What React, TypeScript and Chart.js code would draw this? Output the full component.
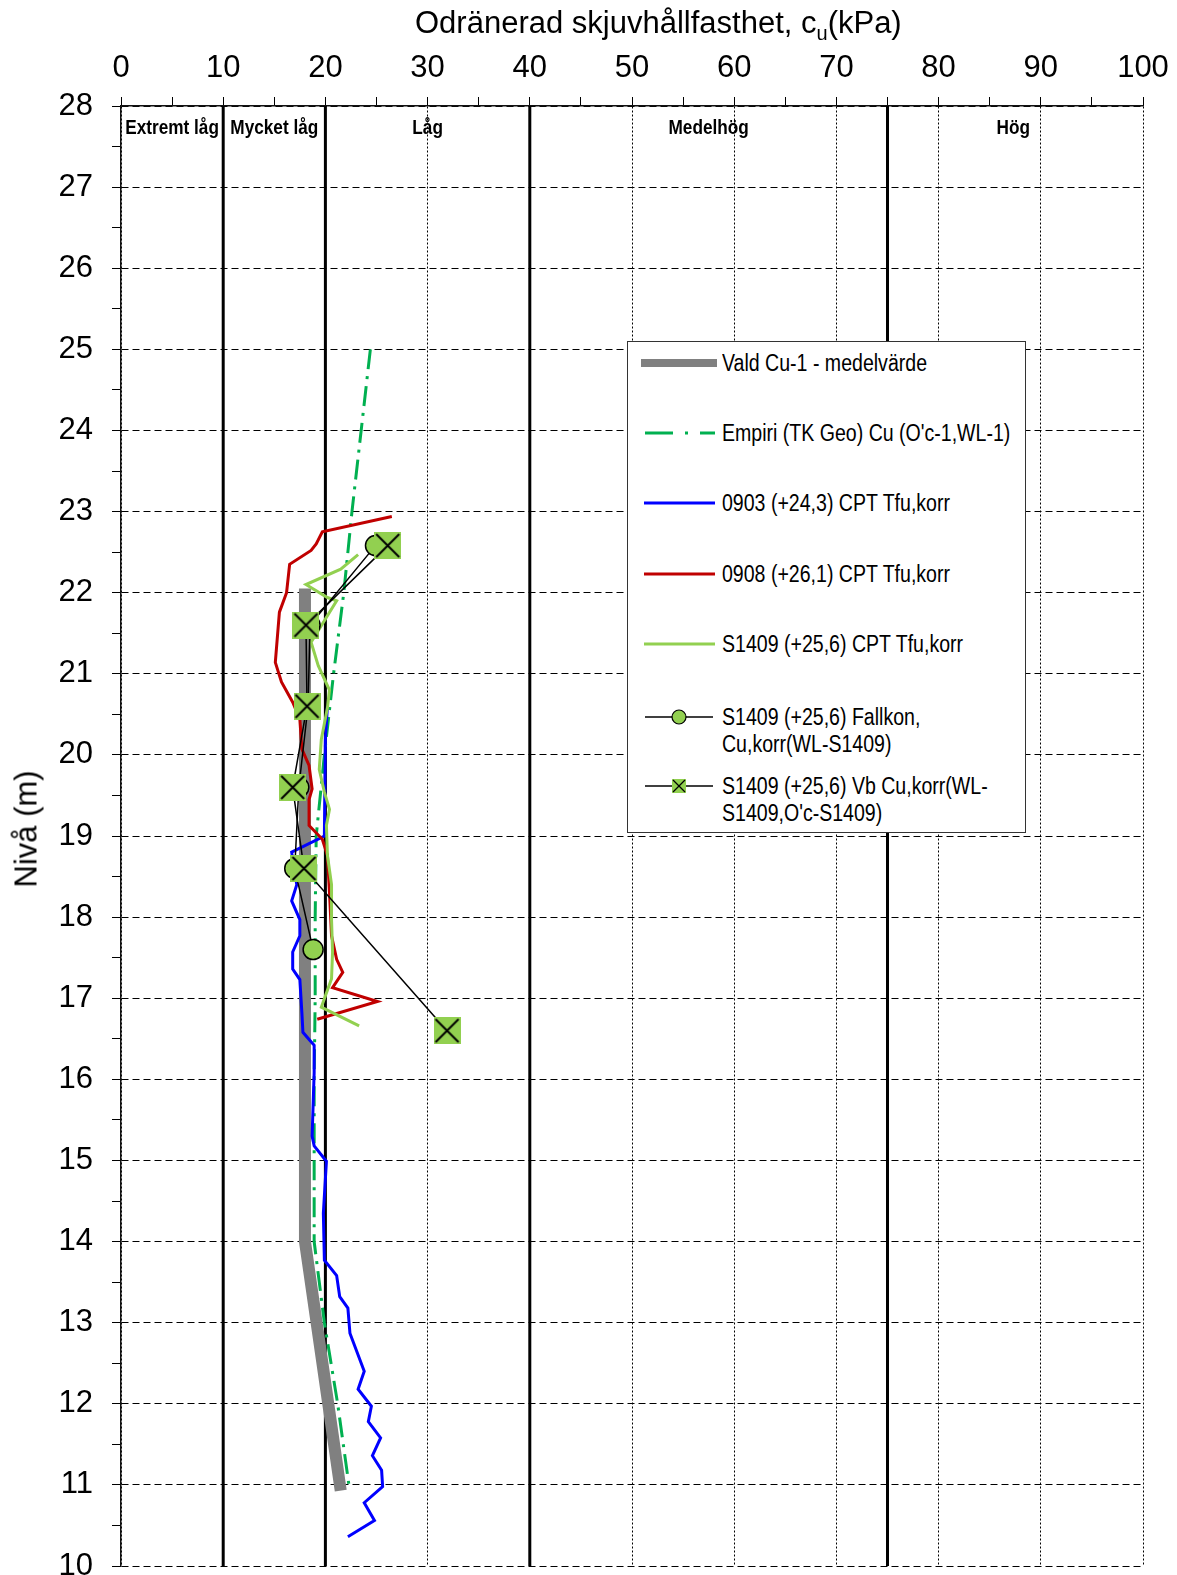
import React, { useEffect, useRef } from 'react';
import { Chart, registerables } from 'chart.js';

Chart.register(...registerables);

const FONT = '"Liberation Sans", Arial, Helvetica, sans-serif';

// ---- axes ----
const xMin = 0;
const xMax = 100;
const yMin = 10;
const yMax = 28;
const xTickLabels = [0, 10, 20, 30, 40, 50, 60, 70, 80, 90, 100];
const yTickLabels = [10, 11, 12, 13, 14, 15, 16, 17, 18, 19, 20, 21, 22, 23, 24, 25, 26, 27, 28];

// ---- strength classes ----
const zoneNames = ['Extremt låg', 'Mycket låg', 'Låg', 'Medelhög', 'Hög'];
const zoneCenters = [5, 15, 30, 57.5, 87.3];
const zoneBounds = [10, 20, 40, 75];
const zoneLabelLevel = 27.72;

// ---- series ----
const valdLevel = [22.05, 14.0, 10.93];
const valdCu = [18.0, 18.0, 21.5];

const empiriLevel = [25, 23, 22, 21, 20, 19, 18, 17, 16, 15, 14, 13, 12, 11];
const empiriCu = [24.4, 22.6, 21.8, 20.8, 19.9, 19.1, 19.0, 19.0, 18.9, 18.9, 18.9, 19.9, 21.2, 22.3];

const cpt0903Level = [20.6, 20.2, 19.0, 18.8, 18.4, 18.2, 17.97, 17.77, 17.57, 17.36, 17.23, 16.82, 16.58, 16.42, 16.08, 15.3, 15.18, 14.99, 14.35, 13.77, 13.58, 13.32, 13.18, 12.87, 12.4, 12.18, 11.97, 11.78, 11.58, 11.36, 11.18, 10.98, 10.78, 10.56, 10.36];
const cpt0903Cu = [20.2, 20.0, 19.9, 16.7, 17.2, 16.7, 17.5, 17.5, 16.8, 16.8, 17.5, 17.7, 17.8, 18.9, 18.9, 18.7, 18.9, 20.1, 19.8, 19.9, 21.1, 21.4, 22.2, 22.4, 23.8, 23.2, 24.5, 24.2, 25.4, 24.6, 25.5, 25.6, 23.8, 24.8, 22.2];

const cpt0908Level = [22.94, 22.75, 22.6, 22.52, 22.35, 22.0, 21.76, 21.14, 20.9, 20.65, 20.44, 20.07, 19.87, 19.58, 19.45, 19.13, 18.96, 18.76, 18.3, 17.77, 17.48, 17.32, 17.13, 16.96, 16.74];
const cpt0908Cu = [26.5, 19.7, 19.1, 18.6, 16.5, 16.2, 15.5, 15.1, 15.7, 16.8, 17.5, 17.7, 18.4, 18.7, 18.4, 18.4, 19.7, 20.2, 20.4, 20.6, 21.1, 21.7, 20.7, 25.1, 19.2];

const cptS1409Level = [22.47, 22.29, 22.1, 21.94, 21.9, 21.39, 21.1, 20.8, 20.58, 20.19, 19.82, 19.54, 19.33, 19.13, 18.76, 18.4, 17.97, 17.57, 17.24, 16.89, 16.66];
const cptS1409Cu = [23.2, 21.5, 18.1, 20.2, 21.1, 18.6, 19.3, 20.4, 20.2, 19.6, 19.4, 19.9, 20.4, 20.1, 20.2, 20.6, 20.6, 20.7, 20.6, 19.6, 23.3];

const fallkonLevel = [22.58, 21.6, 20.6, 19.6, 18.6, 17.6];
const fallkonCu = [24.9, 18.5, 18.3, 17.4, 17.0, 18.8];

const vbLevel = [22.58, 21.6, 20.6, 19.6, 18.6, 16.6];
const vbCu = [26.1, 18.1, 18.2, 16.8, 17.9, 31.9];

const legendLabels = [
  ['Vald Cu-1 - medelvärde'],
  ["Empiri (TK Geo) Cu (O'c-1,WL-1)"],
  ['0903 (+24,3) CPT Tfu,korr'],
  ['0908 (+26,1) CPT Tfu,korr'],
  ['S1409 (+25,6) CPT Tfu,korr'],
  ['S1409 (+25,6) Fallkon,', 'Cu,korr(WL-S1409)'],
  ['S1409 (+25,6) Vb Cu,korr(WL-', "S1409,O'c-S1409)"],
];

const C_GRAY = '#808080';
const C_EMP = '#00B050';
const C_BLUE = '#0000FF';
const C_RED = '#C00000';
const C_LG = '#92D050';

function pts(xs: number[], ys: number[]) {
  return xs.map((x, i) => ({ x, y: ys[i] }));
}

function makeSquareMarker(size: number, lw: number) {
  const c = document.createElement('canvas');
  c.width = size;
  c.height = size;
  const g = c.getContext('2d')!;
  g.fillStyle = C_LG;
  g.fillRect(0, 0, size, size);
  g.strokeStyle = '#000';
  g.lineWidth = lw;
  g.beginPath();
  g.moveTo(2, 2);
  g.lineTo(size - 2, size - 2);
  g.moveTo(size - 2, 2);
  g.lineTo(2, size - 2);
  g.stroke();
  return c;
}

const zeroPad = () => ({ left: 0, top: 0, right: 0, bottom: 0 });

const zonePlugin = {
  id: 'zoneLabels',
  beforeDatasetsDraw(chart: any) {
    const { ctx, scales } = chart;
    const xs = scales.x;
    const ys = scales.y;
    ctx.save();
    ctx.font = 'bold 20px ' + FONT;
    ctx.fillStyle = '#000';
    ctx.textAlign = 'center';
    ctx.textBaseline = 'middle';
    zoneNames.forEach((t, i) => {
      const px = xs.getPixelForValue(zoneCenters[i]);
      const py = ys.getPixelForValue(zoneLabelLevel);
      ctx.save();
      ctx.translate(px, py);
      ctx.scale(0.86, 1);
      ctx.fillText(t, 0, 0);
      ctx.restore();
    });
    ctx.restore();
  },
};

const LEG_ROWS = [363, 433, 503, 574, 644, 717, 786];

export default function App() {
  const ref = useRef<HTMLCanvasElement>(null);

  useEffect(() => {
    const canvas = ref.current;
    if (!canvas) return;
    const sq = makeSquareMarker(27, 2);

    const boundaryDatasets = zoneBounds.map((b) => ({
      data: [
        { x: b, y: yMin },
        { x: b, y: yMax },
      ],
      showLine: true,
      borderColor: '#000',
      borderWidth: 3,
      pointRadius: 0,
      order: 100,
    }));

    const chart = new Chart(canvas, {
      type: 'scatter',
      data: {
        datasets: [
          ...boundaryDatasets,
          {
            data: pts(valdCu, valdLevel),
            showLine: true,
            borderColor: C_GRAY,
            borderWidth: 12,
            pointRadius: 0,
            order: 7,
          },
          {
            data: pts(empiriCu, empiriLevel),
            showLine: true,
            borderColor: C_EMP,
            borderWidth: 3,
            borderDash: [20, 7, 3, 7],
            pointRadius: 0,
            order: 6,
          },
          {
            data: pts(cpt0903Cu, cpt0903Level),
            showLine: true,
            borderColor: C_BLUE,
            borderWidth: 3,
            pointRadius: 0,
            order: 5,
          },
          {
            data: pts(cpt0908Cu, cpt0908Level),
            showLine: true,
            borderColor: C_RED,
            borderWidth: 3,
            pointRadius: 0,
            order: 4,
          },
          {
            data: pts(cptS1409Cu, cptS1409Level),
            showLine: true,
            borderColor: C_LG,
            borderWidth: 3,
            pointRadius: 0,
            order: 3,
          },
          {
            data: pts(fallkonCu, fallkonLevel),
            showLine: true,
            borderColor: '#000',
            borderWidth: 1.5,
            pointStyle: 'circle',
            pointRadius: 10,
            pointBackgroundColor: C_LG,
            pointBorderColor: '#000',
            pointBorderWidth: 1.5,
            order: 2,
          },
          {
            data: pts(vbCu, vbLevel),
            showLine: true,
            borderColor: '#000',
            borderWidth: 1.5,
            pointStyle: sq,
            pointRadius: 13,
            order: 1,
          },
        ] as any,
      },
      options: {
        responsive: false,
        animation: false,
        devicePixelRatio: 1,
        events: [],
        layout: { autoPadding: false, padding: { left: 0, right: 34, top: 0, bottom: 9 } },
        plugins: {
          legend: { display: false },
          tooltip: { enabled: false },
          title: { display: false },
        },
        scales: {
          x: {
            type: 'linear',
            position: 'top',
            min: xMin,
            max: xMax,
            afterFit: (s: any) => {
              s.height = 106;
              s.paddingLeft = 0;
              s.paddingRight = 0;
              s.getPadding = zeroPad;
            },
            ticks: {
              stepSize: 5,
              autoSkip: false,
              maxRotation: 0,
              padding: 10,
              color: '#000',
              font: { family: FONT, size: 31 },
              callback: (v: any) => (xTickLabels.includes(Number(v)) ? String(v) : ''),
            },
            grid: {
              color: (ctx: any) =>
                ctx.tick && xTickLabels.includes(ctx.tick.value) ? '#000' : 'rgba(0,0,0,0)',
              lineWidth: 1,
              tickLength: 9,
              tickColor: '#000',
              tickWidth: 1,
            },
            border: { display: true, color: '#111', width: 1.5, dash: [2, 2] },
          },
          y: {
            type: 'linear',
            position: 'left',
            min: yMin,
            max: yMax,
            afterFit: (s: any) => {
              s.width = 121;
              s.paddingTop = 0;
              s.paddingBottom = 0;
              s.getPadding = zeroPad;
            },
            ticks: {
              stepSize: 0.5,
              autoSkip: false,
              padding: 19,
              color: '#000',
              font: { family: FONT, size: 31 },
              callback: (v: any) => (yTickLabels.includes(Number(v)) ? String(v) : ''),
            },
            grid: {
              color: (ctx: any) =>
                ctx.tick && yTickLabels.includes(ctx.tick.value) ? '#000' : 'rgba(0,0,0,0)',
              lineWidth: 1,
              tickLength: 9,
              tickColor: '#000',
              tickWidth: 1,
            },
            border: { display: true, color: '#111', width: 1.5, dash: [7, 4] },
          },
        },
      } as any,
      plugins: [zonePlugin],
    });
    return () => chart.destroy();
  }, []);

  const textStyle = (cy: number): React.CSSProperties => ({
    position: 'absolute',
    left: 722,
    top: cy - 13,
    height: 26,
    lineHeight: '26px',
    fontSize: 23,
    whiteSpace: 'nowrap',
    transform: 'scaleX(0.85)',
    transformOrigin: 'left center',
    color: '#000',
  });

  const textLines: { t: string; cy: number }[] = [];
  legendLabels.forEach((lines, i) => {
    lines.forEach((t, j) => {
      textLines.push({ t, cy: LEG_ROWS[i] + j * 27 });
    });
  });

  return (
    <div
      style={{
        position: 'absolute',
        left: 0,
        top: 0,
        width: 1177,
        height: 1575,
        background: '#fff',
        fontFamily: FONT,
        overflow: 'hidden',
      }}
    >
      <canvas ref={ref} width={1177} height={1575} style={{ position: 'absolute', left: 0, top: 0 }} />
      <div
        style={{
          position: 'absolute',
          left: 415,
          top: 7,
          fontSize: 31,
          lineHeight: '31px',
          whiteSpace: 'nowrap',
          color: '#000',
        }}
      >
        Odränerad skjuvhållfasthet, c
        <span style={{ fontSize: 20, position: 'relative', top: 7 }}>u</span>(kPa)
      </div>
      <div
        style={{
          position: 'absolute',
          left: 26,
          top: 829,
          fontSize: 31,
          lineHeight: '31px',
          whiteSpace: 'nowrap',
          transform: 'translate(-50%,-50%) rotate(-90deg)',
          color: '#000',
        }}
      >
        Nivå (m)
      </div>
      <div
        style={{
          position: 'absolute',
          left: 627,
          top: 341,
          width: 399,
          height: 492,
          boxSizing: 'border-box',
          border: '1.5px solid #333',
          background: '#fff',
        }}
      />
      <svg
        width={1177}
        height={1575}
        style={{ position: 'absolute', left: 0, top: 0, pointerEvents: 'none' }}
      >
        <line x1={641} x2={717} y1={LEG_ROWS[0]} y2={LEG_ROWS[0]} stroke={C_GRAY} strokeWidth={8} />
        <line
          x1={645}
          x2={715}
          y1={LEG_ROWS[1]}
          y2={LEG_ROWS[1]}
          stroke={C_EMP}
          strokeWidth={3}
          strokeDasharray="28 12 3 12"
        />
        <line x1={644} x2={715} y1={LEG_ROWS[2]} y2={LEG_ROWS[2]} stroke={C_BLUE} strokeWidth={3} />
        <line x1={644} x2={715} y1={LEG_ROWS[3]} y2={LEG_ROWS[3]} stroke={C_RED} strokeWidth={3} />
        <line x1={644} x2={715} y1={LEG_ROWS[4]} y2={LEG_ROWS[4]} stroke={C_LG} strokeWidth={3} />
        <line x1={645} x2={713} y1={LEG_ROWS[5]} y2={LEG_ROWS[5]} stroke="#000" strokeWidth={1.5} />
        <circle cx={679} cy={LEG_ROWS[5]} r={7} fill={C_LG} stroke="#000" strokeWidth={1.2} />
        <line x1={645} x2={713} y1={LEG_ROWS[6]} y2={LEG_ROWS[6]} stroke="#000" strokeWidth={1.5} />
        <rect x={672} y={LEG_ROWS[6] - 7} width={14} height={14} fill={C_LG} />
        <line x1={673} x2={685} y1={LEG_ROWS[6] - 6} y2={LEG_ROWS[6] + 6} stroke="#000" strokeWidth={1.2} />
        <line x1={685} x2={673} y1={LEG_ROWS[6] - 6} y2={LEG_ROWS[6] + 6} stroke="#000" strokeWidth={1.2} />
      </svg>
      {textLines.map((l, i) => (
        <div key={i} style={textStyle(l.cy)}>
          {l.t}
        </div>
      ))}
    </div>
  );
}
